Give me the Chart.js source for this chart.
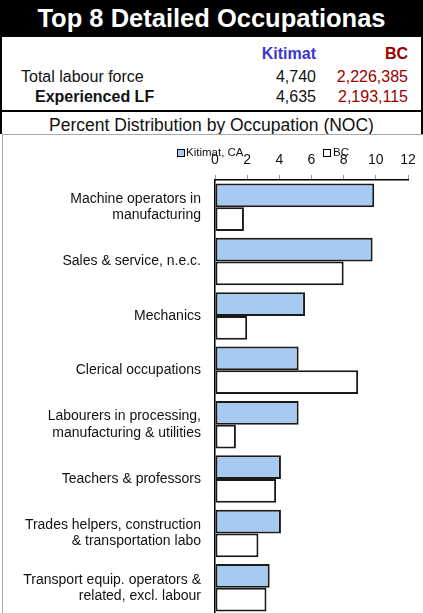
<!DOCTYPE html>
<html>
<head>
<meta charset="utf-8">
<script src="https://cdn.jsdelivr.net/npm/chart.js@4/dist/chart.umd.min.js"></script>
<style>
    html, body { margin: 0; padding: 0; width: 423px; height: 613px; overflow: hidden; background: #fff; font-family: Arial, "Liberation Sans", sans-serif; }
    .abs { position: absolute; white-space: nowrap; }
    #title { left: 0; top: 0; width: 423px; height: 37px; background: #000; color: #fff; font-weight: bold; font-size: 25.5px; line-height: 37px; text-align: center; }
    #box { left: 0; top: 37px; width: 419px; height: 97px; border-left: 2px solid #000; border-right: 2px solid #000; }
    #rule { left: 0; top: 110px; width: 423px; height: 2px; background: #000; }
    .num { font-size: 16px; text-align: right; }
    #chartWrap { left: 2px; top: 134px; width: 421px; height: 479px; border-top: 1px solid #aaa; border-left: 1px solid #aaa; }
    #chartBox { left: 0; top: 134px; width: 423px; height: 481px; }
    .sw { position: absolute; width: 6px; height: 6px; border: 1px solid #000; }
    .lg { font-size: 11.5px; color: #111; }
</style>
</head>
<body>
<div id="title" class="abs">Top 8 Detailed Occupationas</div>
<div id="box" class="abs"></div>
<div id="rule" class="abs"></div>

<!-- 표 머리글 -->
<div class="abs num" style="right:107px; top:45px; font-weight:bold; color:#3737D0;">Kitimat</div>
<div class="abs num" style="right:15px; top:45px; font-weight:bold; color:#990000;">BC</div>

<div class="abs num" style="left:21px; top:68px; color:#111;">Total labour force</div>
<div class="abs num" style="right:107px; top:68px; color:#111;">4,740</div>
<div class="abs num" style="right:15px; top:68px; color:#990000;">2,226,385</div>

<div class="abs num" style="left:35px; top:88px; font-weight:bold; color:#111;">Experienced LF</div>
<div class="abs num" style="right:107px; top:88px; color:#111;">4,635</div>
<div class="abs num" style="right:15px; top:88px; color:#990000;">2,193,115</div>

<div class="abs" style="left:0; top:115px; width:423px; text-align:center; font-size:17.5px; color:#111;">Percent Distribution by Occupation (NOC)</div>

<div id="chartWrap" class="abs"></div>
<div id="chartBox" class="abs"><canvas id="chart" width="423" height="481"></canvas></div>

<!-- 범례 (축 레이블 위에 겹침) -->
<div class="sw" style="left:177px; top:149px; background:#A6CAF0;"></div>
<div class="abs lg" style="left:186px; top:146px;">Kitimat, CA</div>
<div class="sw" style="left:323px; top:149px; background:#fff;"></div>
<div class="abs lg" style="left:333px; top:146px;">BC</div>

<script>
// 데이터
const categories = [
    ['Machine operators in', 'manufacturing'],
    'Sales & service, n.e.c.',
    'Mechanics',
    'Clerical occupations',
    ['Labourers in processing,', 'manufacturing & utilities'],
    'Teachers & professors',
    ['Trades helpers, construction', '& transportation labo'],
    ['Transport equip. operators &', 'related, excl. labour']
];
const kitimatValues = [9.9, 9.8, 5.6, 5.2, 5.2, 4.1, 4.1, 3.4];
const bcValues = [1.8, 8.0, 2.0, 8.9, 1.3, 3.8, 2.7, 3.2];
const xTicks = [0, 2, 4, 6, 8, 10, 12];

const ctx = document.getElementById('chart');
new Chart(ctx, {
    type: 'bar',
    data: {
        labels: categories,
        datasets: [
            {
                label: 'Kitimat, CA',
                data: kitimatValues,
                backgroundColor: '#A6CAF0',
                borderColor: '#1a1a1a',
                borderWidth: 2,
                borderSkipped: false
            },
            {
                label: 'BC',
                data: bcValues,
                backgroundColor: '#ffffff',
                borderColor: '#1a1a1a',
                borderWidth: 2,
                borderSkipped: false
            }
        ]
    },
    options: {
        indexAxis: 'y',
        responsive: false,
        animation: false,
        layout: { padding: { left: 0, right: 15, top: 0, bottom: 0 } },
        datasets: { bar: { categoryPercentage: 0.873, barPercentage: 1 } },
        plugins: {
            legend: { display: false },
            tooltip: { enabled: false }
        },
        scales: {
            x: {
                position: 'top',
                min: 0,
                max: 12,
                afterBuildTicks: function(scale) {
                    scale.ticks = xTicks.map(v => ({ value: v }));
                },
                afterFit: function(scale) {
                    scale.height = 46;
                    scale.paddingLeft = 0;
                    scale.paddingRight = 0;
                },
                ticks: {
                    padding: 6,
                    color: '#111',
                    font: { family: 'Arial, "Liberation Sans", sans-serif', size: 14 }
                },
                grid: {
                    drawOnChartArea: false,
                    drawTicks: true,
                    tickLength: 5,
                    color: '#999'
                },
                border: { color: '#000', width: 1.5 }
            },
            y: {
                afterFit: function(scale) {
                    scale.width = 215;
                    // 라벨 높이로 인한 여백 제거
                    scale.paddingTop = 0;
                    scale.paddingBottom = 0;
                },
                ticks: {
                    padding: 14,
                    color: '#111',
                    font: { family: 'Arial, "Liberation Sans", sans-serif', size: 14, lineHeight: 1.15 }
                },
                grid: { display: false, drawTicks: false },
                border: { color: '#000', width: 1.5 }
            }
        }
    }
});
</script>
</body>
</html>
